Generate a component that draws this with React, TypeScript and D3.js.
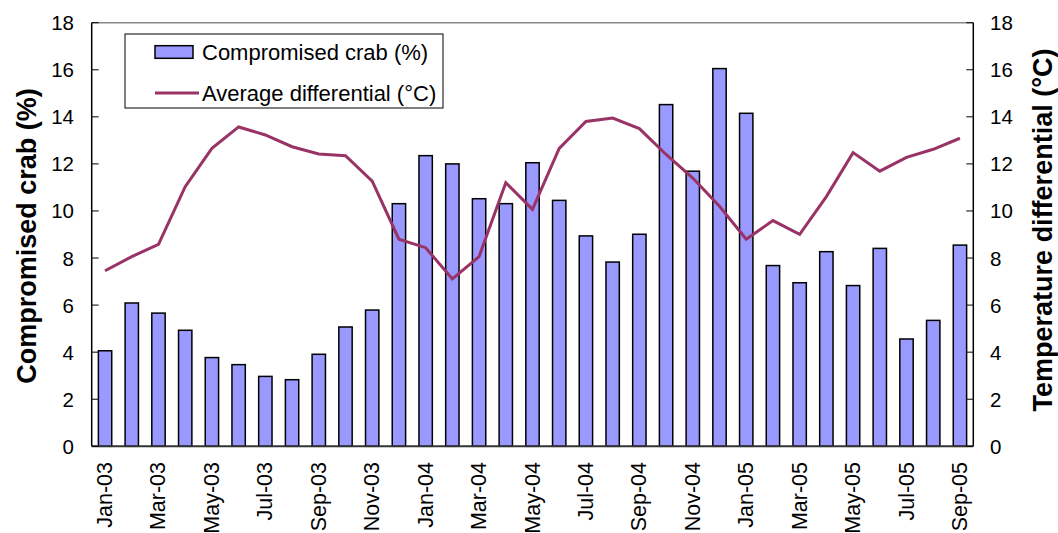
import React from "react";
import * as d3 from "d3";

const months = [
  "Jan-03","Feb-03","Mar-03","Apr-03","May-03","Jun-03","Jul-03","Aug-03","Sep-03","Oct-03","Nov-03","Dec-03",
  "Jan-04","Feb-04","Mar-04","Apr-04","May-04","Jun-04","Jul-04","Aug-04","Sep-04","Oct-04","Nov-04","Dec-04",
  "Jan-05","Feb-05","Mar-05","Apr-05","May-05","Jun-05","Jul-05","Aug-05","Sep-05",
];
const compromisedCrab = [
  4.06, 6.09, 5.66, 4.93, 3.77, 3.47, 2.97, 2.83, 3.91, 5.07, 5.79, 10.31,
  12.35, 12.0, 10.52, 10.31, 12.05, 10.45, 8.94, 7.83, 9.01, 14.52, 11.69, 16.05,
  14.15, 7.68, 6.95, 8.27, 6.83, 8.41, 4.56, 5.35, 8.55,
];
const averageDifferential = [
  7.46, 8.06, 8.58, 11.03, 12.66, 13.57, 13.23, 12.73, 12.42, 12.35, 11.27, 8.8,
  8.44, 7.11, 8.06, 11.2, 10.07, 12.66, 13.8, 13.95, 13.5, 12.4, 11.4, 10.2,
  8.8, 9.59, 9.01, 10.61, 12.48, 11.69, 12.28, 12.62, 13.09,
];
const yTicks = [0, 2, 4, 6, 8, 10, 12, 14, 16, 18];
const legendLabels = ["Compromised crab (%)", "Average differential (\u00B0C)"];
const leftTitle = "Compromised crab (%)";
const rightTitle = "Temperature differential (\u00B0C)";

const W = 1058, H = 533;
const L = 91.7, R = 973.3, T = 22.7, B = 446.3;
const FONT = "Arial, 'Liberation Sans', sans-serif";
const BAR = "#9999FF";
const LINE = "#993366";

export default function App() {
  const x = d3.scaleBand<string>().domain(months).range([L, R]).paddingInner(0.5).paddingOuter(0.25);
  const yL = d3.scaleLinear().domain([0, 18]).range([B, T]);
  const yR = d3.scaleLinear().domain([0, 18]).range([B, T]);
  const cx = (m: string) => (x(m) as number) + x.bandwidth() / 2;
  const line = d3.line<number>().x((_, i) => cx(months[i])).y((d) => yR(d));

  return (
    <svg width={W} height={H} style={{ position: "absolute", left: 0, top: 0, background: "#fff" }} fontFamily={FONT}>
      <rect x={0} y={0} width={W} height={H} fill="#fff" />
      {/* bars */}
      {compromisedCrab.map((v, i) => (
        <rect key={i} x={x(months[i])} y={yL(v)} width={x.bandwidth()} height={B - yL(v)}
          fill={BAR} stroke="#000" strokeWidth={1.5} />
      ))}
      {/* line */}
      <path d={line(averageDifferential) || ""} fill="none" stroke={LINE} strokeWidth={3} strokeLinejoin="miter" />
      {/* frame */}
      <line x1={L} x2={R} y1={T} y2={T} stroke="#888" strokeWidth={1.5} />
      <line x1={L} x2={L} y1={T} y2={B} stroke="#000" strokeWidth={1.5} />
      <line x1={R} x2={R} y1={T} y2={B} stroke="#000" strokeWidth={1.5} />
      <line x1={L} x2={R} y1={B} y2={B} stroke="#333" strokeWidth={2} />
      {/* y ticks */}
      {yTicks.map((t) => (
        <g key={t}>
          <line x1={L} x2={L + 7} y1={yL(t)} y2={yL(t)} stroke="#000" strokeWidth={1} />
          <line x1={R - 7} x2={R} y1={yR(t)} y2={yR(t)} stroke="#000" strokeWidth={1} />
          <text x={74} y={yL(t)} textAnchor="end" dominantBaseline="central" fontSize={20.5}>{t}</text>
          <text x={990} y={yR(t)} textAnchor="start" dominantBaseline="central" fontSize={20.5}>{t}</text>
        </g>
      ))}
      {/* x labels */}
      {months.map((m, i) => i % 2 === 0 ? (
        <text key={m} transform={`translate(${cx(m)},462) rotate(-90)`} textAnchor="end"
          dominantBaseline="central" fontSize={21.5}>{m}</text>
      ) : null)}
      {/* axis titles */}
      <text transform={`translate(27,236) rotate(-90)`} textAnchor="middle" dominantBaseline="central"
        fontSize={27} fontWeight="bold">{leftTitle}</text>
      <text transform={`translate(1043,230) rotate(-90)`} textAnchor="middle" dominantBaseline="central"
        fontSize={27} fontWeight="bold">{rightTitle}</text>
      {/* legend */}
      <rect x={125} y={34} width={318} height={74} fill="#fff" stroke="#000" strokeWidth={1} />
      <rect x={155} y={45.7} width={38} height={12.6} fill={BAR} stroke="#000" strokeWidth={1.5} />
      <text x={202} y={52} dominantBaseline="central" fontSize={22}>{legendLabels[0]}</text>
      <line x1={155} x2={199} y1={93} y2={93} stroke={LINE} strokeWidth={3} />
      <text x={202} y={93} dominantBaseline="central" fontSize={22}>{legendLabels[1]}</text>
    </svg>
  );
}
